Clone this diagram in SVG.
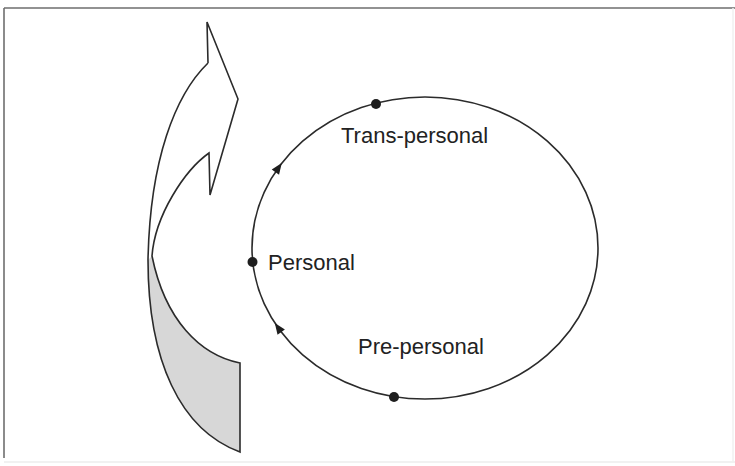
<svg xmlns="http://www.w3.org/2000/svg" width="735" height="466" viewBox="0 0 735 466">
  <style>
    .line { fill: none; stroke: #2b2b2b; stroke-width: 1.6; stroke-linejoin: miter; }
    .label { font-family: "Liberation Sans", Arial, sans-serif; font-size: 22px; fill: #222; }
    .dot { fill: #1e1e1e; }
    .head { fill: #1e1e1e; }
  </style>
  <rect x="0" y="0" width="735" height="466" fill="#ffffff"/>
  <g id="frame">
    <line x1="4" y1="8" x2="735" y2="8" stroke="#6e6e6e" stroke-width="1.6"/>
    <line x1="4" y1="8" x2="4" y2="458" stroke="#6e6e6e" stroke-width="1.6"/>
    <line x1="4" y1="462" x2="735" y2="462" stroke="#ececec" stroke-width="1.5"/>
    <line x1="733" y1="8" x2="733" y2="462" stroke="#f0f0f0" stroke-width="1.5"/>
  </g>
  <g id="spiral-arrow">
    <path d="M152,256 C165,320 200,355 240,363 L240,452 C180,430 148,360 148,260 Z" fill="#d7d7d7" stroke="none"/>
    <path class="line" d="M208,63 C175,95 150,160 148,260 C148,360 180,430 240,452 L240,363 C200,355 165,320 152,256 C155,215 185,170 209,153 L210,195 L238,99 L207,22 L208,63"/>
  </g>
  <g id="cycle">
    <ellipse cx="425" cy="248" rx="173" ry="151" class="line"/>
  </g>
  <g id="trans-personal">
    <circle cx="376" cy="104" r="5" class="dot"/>
    <text x="341" y="143" class="label">Trans-personal</text>
  </g>
  <g id="personal">
    <circle cx="252.5" cy="262" r="5" class="dot"/>
    <text x="268" y="270" class="label">Personal</text>
  </g>
  <g id="pre-personal">
    <circle cx="394" cy="397" r="5" class="dot"/>
    <text x="358" y="354" class="label">Pre-personal</text>
  </g>
  <g id="connectors">
    <path class="head" d="M6,0 L-5,-4.5 L-5,4.5 Z" transform="translate(278.3,168) rotate(-54.4)"/>
    <path class="head" d="M6,0 L-5,-4.5 L-5,4.5 Z" transform="translate(278.3,328) rotate(-125.6)"/>
  </g>
</svg>
